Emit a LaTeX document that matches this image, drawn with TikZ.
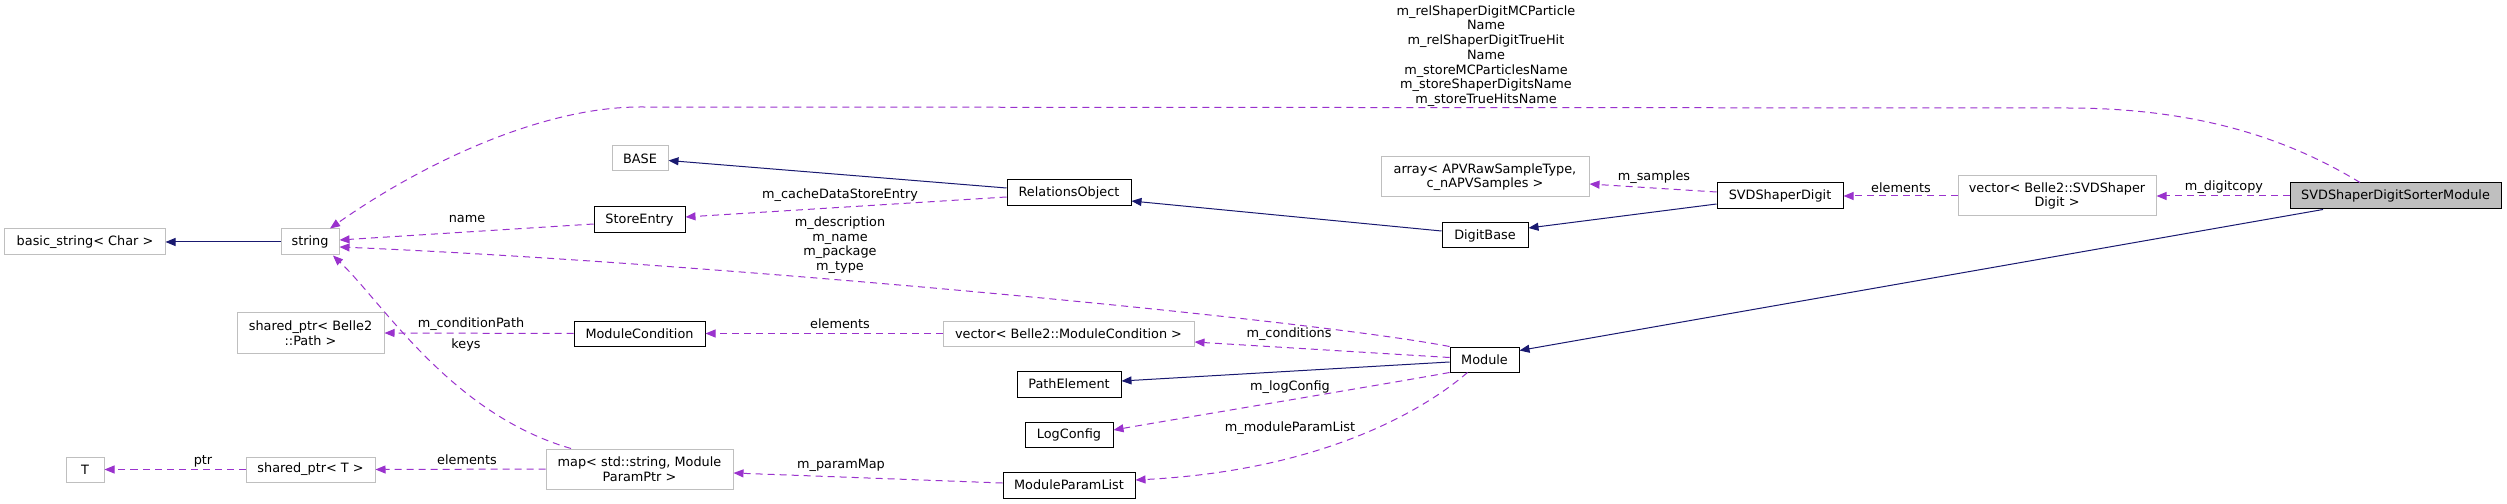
\documentclass[tikz,border=0pt]{standalone}
\usepackage{fontspec}
\setmainfont{DejaVu Sans}
\usetikzlibrary{arrows.meta}
\definecolor{navyc}{HTML}{191970}
\definecolor{orchidc}{HTML}{9A32CD}
\definecolor{grayb}{HTML}{BFBFBF}
\begin{document}
\begin{tikzpicture}[x=1bp,y=-1bp,
  font=\fontsize{12.84bp}{14.7bp}\selectfont,
  cls/.style={draw=black, line width=1bp, fill=white, inner sep=0pt, align=center},
  ext/.style={draw=grayb, line width=1bp, fill=white, inner sep=0pt, align=center},
  inh/.style={draw=navyc, line width=1bp, -{Triangle[length=10bp,width=8bp]}},
  usesrel/.style={draw=orchidc, line width=1bp, dash pattern=on 7bp off 5bp, -{Triangle[length=10bp,width=8bp]}},
  lbl/.style={inner sep=0pt, align=center}
]
\useasboundingbox (0,0) rectangle (2507,504);

% nodes
\node[ext, minimum width=160bp, minimum height=26bp] (basic) at (85,242) {basic\_string< Char >};
\node[ext, minimum width=58bp, minimum height=26bp] (str) at (310,242) {string};
\node[ext, minimum width=147bp, minimum height=40bp] (sppath) at (310.5,333) {shared\_ptr< Belle2\\::Path >};
\node[ext, minimum width=38bp, minimum height=25bp] (tnode) at (85,469.5) {T};
\node[ext, minimum width=129bp, minimum height=25bp] (spt) at (310.5,469.5) {shared\_ptr< T >};
\node[ext, minimum width=187bp, minimum height=40bp] (map) at (639.5,469) {map< std::string, Module\\ParamPtr >};
\node[ext, minimum width=56bp, minimum height=25bp] (base) at (640,158.5) {BASE};
\node[cls, minimum width=91bp, minimum height=26bp] (se) at (639.5,220) {StoreEntry};
\node[cls, minimum width=131bp, minimum height=25bp] (mc) at (639.5,333.5) {ModuleCondition};
\node[cls, minimum width=124bp, minimum height=26bp] (ro) at (1069,193) {RelationsObject};
\node[ext, minimum width=251bp, minimum height=25bp] (vecmc) at (1068.5,333.5) {vector< Belle2::ModuleCondition >};
\node[cls, minimum width=104bp, minimum height=26bp] (pe) at (1069,384) {PathElement};
\node[cls, minimum width=88bp, minimum height=25bp] (lc) at (1069,434.5) {LogConfig};
\node[cls, minimum width=132bp, minimum height=26bp] (mpl) at (1069,485) {ModuleParamList};
\node[ext, minimum width=208bp, minimum height=40bp] (arr) at (1485,177) {array< APVRawSampleType,\\c\_nAPVSamples >};
\node[cls, minimum width=86bp, minimum height=25bp] (db) at (1485,235.5) {DigitBase};
\node[cls, minimum width=69bp, minimum height=25bp] (module) at (1484.5,359.5) {Module};
\node[cls, minimum width=126bp, minimum height=26bp] (svd) at (1780,196) {SVDShaperDigit};
\node[ext, minimum width=198bp, minimum height=40bp] (vecsd) at (2057,196) {vector< Belle2::SVDShaper\\Digit >};
\node[cls, fill=grayb, minimum width=211bp, minimum height=26bp] (sorter) at (2395.5,196) {SVDShaperDigitSorterModule};

% inheritance edges
\draw[inh] (str.west) -- (basic.east);
\draw[inh] ([yshift=5bp]ro.west) -- ([yshift=-2bp]base.east);
\draw[inh] ([yshift=4.5bp]db.west) -- ([yshift=-8bp]ro.east);
\draw[inh] ([yshift=-8bp]svd.west) -- ([yshift=7.5bp]db.east);
\draw[inh] ([xshift=-72.5bp]sorter.south) -- ([yshift=9bp]module.east);
\draw[inh] ([yshift=-2.5bp]module.west) -- ([yshift=3bp]pe.east);

% usage edges
\draw[usesrel] ([xshift=-35.5bp]sorter.north) .. controls (2290,140) and (2200,108) .. (2067,108)
  -- (640,107) .. controls (540,107) and (420,165) .. ([xshift=20bp]str.north);
\node[lbl] (toplbl) at (1486,56) {m\_relShaperDigitMCParticle\\Name\\m\_relShaperDigitTrueHit\hspace*{28bp}\\Name\\m\_storeMCParticlesName\\m\_storeShaperDigitsName\\m\_storeTrueHitsName};

\draw[usesrel] ([yshift=-4bp]ro.west) -- ([yshift=3bp]se.east)
  node[lbl] at (840,195) {m\_cacheDataStoreEntry};
\draw[usesrel] ([yshift=-4bp]se.west) -- ([yshift=2bp]str.east)
  node[lbl] at (467,219) {name};
\draw[usesrel] (module.north west) .. controls (1300,318) and (700,262) .. ([yshift=-5bp]str.east)
  node[lbl] at (840,245) {m\_description\\m\_name\\m\_package\\m\_type};
\draw[usesrel] ([yshift=4bp]svd.west) -- ([yshift=-7bp]arr.east)
  node[lbl] at (1654,177) {m\_samples};
\draw[usesrel] (vecsd.west) -- (svd.east)
  node[lbl] at (1901,188) {elements};
\draw[usesrel] (sorter.west) -- (vecsd.east)
  node[lbl] at (2224,187) {m\_digitcopy};
\draw[usesrel] ([yshift=2bp]module.west) -- ([yshift=-8.5bp]vecmc.east)
  node[lbl] at (1289,334) {m\_conditions};
\draw[usesrel] (vecmc.west) -- (mc.east)
  node[lbl] at (840,324) {elements};
\draw[usesrel] (mc.west) -- (sppath.east)
  node[lbl] at (471,324) {m\_conditionPath};
\draw[usesrel] ([xshift=-68.5bp]map.north) .. controls (451,414) and (383,303) .. ([xshift=23bp]str.south)
  node[lbl] at (466,345) {keys};
\draw[usesrel] (map.west) -- (spt.east)
  node[lbl] at (467,460) {elements};
\draw[usesrel] (spt.west) -- (tnode.east)
  node[lbl] at (203,461) {ptr};
\draw[usesrel] ([yshift=2bp]mpl.west) -- ([yshift=-4bp]map.east)
  node[lbl] at (841,465) {m\_paramMap};
\draw[usesrel] (module.south west) .. controls (1380,385) and (1200,415) .. ([yshift=4.5bp]lc.east)
  node[lbl] at (1290,387) {m\_logConfig};
\draw[usesrel] ([xshift=-17bp]module.south) .. controls (1430,405) and (1330,470) .. ([yshift=5bp]mpl.east)
  node[lbl] at (1290,428) {m\_moduleParamList};
\end{tikzpicture}
\end{document}
